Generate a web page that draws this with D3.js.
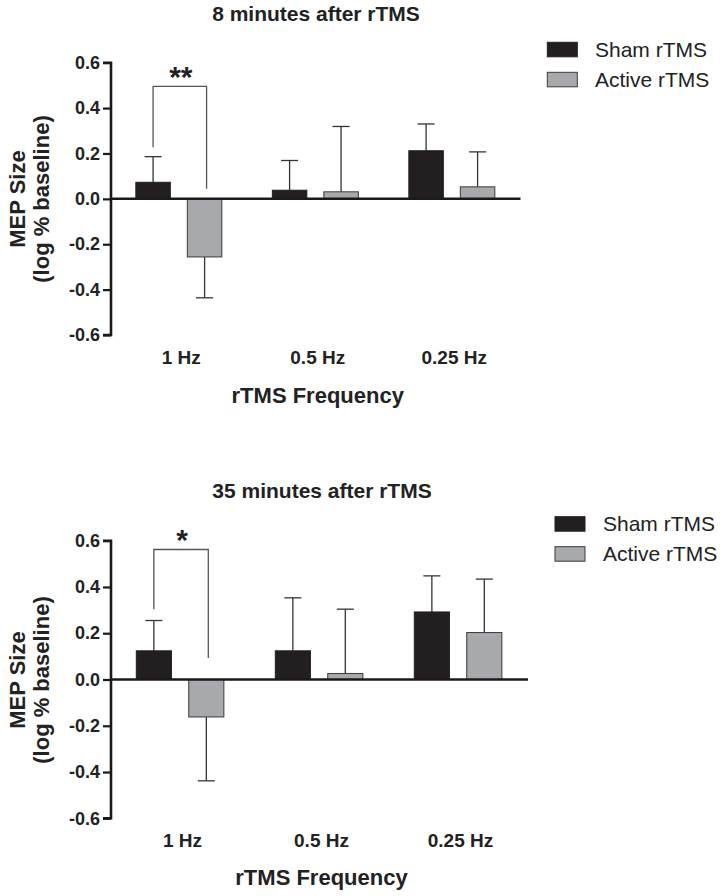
<!DOCTYPE html>
<html>
<head>
<meta charset="utf-8">
<script src="https://cdn.jsdelivr.net/npm/d3@7/dist/d3.min.js"></script>
<style>
  html, body { margin: 0; padding: 0; background: #fff; }
  svg { display: block; font-family: "Liberation Sans", Arial, Helvetica, sans-serif; }
</style>
</head>
<body>
<svg id="chart" width="727" height="896"></svg>
<script>
// ---------------- DATA ----------------
const categories = ["1 Hz", "0.5 Hz", "0.25 Hz"];
const seriesNames = ["Sham rTMS", "Active rTMS"];
const yTicks = [-0.6, -0.4, -0.2, 0.0, 0.2, 0.4, 0.6];

// 8 minutes after rTMS
const sham8 = [0.073, 0.038, 0.212];
const sham8Err = [0.113, 0.131, 0.118];
const active8 = [-0.256, 0.031, 0.053];
const active8Err = [0.180, 0.288, 0.154];
const sig8 = { label: "**", leftEnd: 0.227, rightEnd: 0.044, top: 0.496, category: "1 Hz" };

// 35 minutes after rTMS
const sham35 = [0.124, 0.124, 0.292];
const sham35Err = [0.131, 0.229, 0.156];
const active35 = [-0.162, 0.026, 0.203];
const active35Err = [0.276, 0.278, 0.231];
const sig35 = { label: "*", leftEnd: 0.304, rightEnd: 0.093, top: 0.562, category: "1 Hz" };

const titles = ["8 minutes after rTMS", "35 minutes after rTMS"];
const xTitle = "rTMS Frequency";
const yTitle1 = "MEP Size";
const yTitle2 = "(log %  baseline)";

// ---------------- LAYOUT ----------------
const colors = { "Sham rTMS": "#231f20", "Active rTMS": "#a7a9ac" };
const strokes = { "Sham rTMS": "#231f20", "Active rTMS": "#3a3a3a" };

const panels = [
  { title: titles[0], sham: sham8, shamErr: sham8Err, active: active8, activeErr: active8Err, sig: sig8,
    top: 62.7, bottom: 335, left: 111, right: 520.5, titleY: 20.7, titleX: 316,
    catLabelY: 364, xTitleY: 403.3, yTitleCy: 199,
    legX: 547.3, legY: 42.3, legTextX: 595 },
  { title: titles[1], sham: sham35, shamErr: sham35Err, active: active35, activeErr: active35Err, sig: sig35,
    top: 540.7, bottom: 818.3, left: 111, right: 528, titleY: 498.3, titleX: 322,
    catLabelY: 847, xTitleY: 885, yTitleCy: 680,
    legX: 555, legY: 516.7, legTextX: 603 }
];

const svg = d3.select("#chart");

panels.forEach(p => {
  const g = svg.append("g");
  const y = d3.scaleLinear().domain([-0.6, 0.6]).range([p.bottom, p.top]);
  const x0 = d3.scaleBand().domain(categories).range([p.left, p.right]).padding(0);
  const bw = x0.bandwidth();
  const x1 = d3.scaleBand().domain(seriesNames).range([bw * 0.182, bw * 0.812]).paddingInner(0.33);

  const rows = [];
  categories.forEach((c, i) => {
    rows.push({ cat: c, s: seriesNames[0], v: p.sham[i], e: p.shamErr[i] });
    rows.push({ cat: c, s: seriesNames[1], v: p.active[i], e: p.activeErr[i] });
  });

  // Title
  g.append("text").attr("x", p.titleX).attr("y", p.titleY)
    .attr("text-anchor", "middle").attr("font-weight", "bold").attr("font-size", 21)
    .attr("fill", "#222").text(p.title);

  // Error bars (drawn before bars so the bar covers the start)
  const cap = 8.5;
  rows.forEach(r => {
    const cx = x0(r.cat) + x1(r.s) + x1.bandwidth() / 2;
    const end = r.v >= 0 ? r.v + r.e : r.v - r.e;
    g.append("line").attr("x1", cx).attr("x2", cx).attr("y1", y(r.v)).attr("y2", y(end))
      .attr("stroke", "#333").attr("stroke-width", 1.3);
    g.append("line").attr("x1", cx - cap).attr("x2", cx + cap).attr("y1", y(end)).attr("y2", y(end))
      .attr("stroke", "#333").attr("stroke-width", 1.3);
  });

  // Bars
  g.selectAll("rect.bar").data(rows).enter().append("rect")
    .attr("class", "bar")
    .attr("x", d => x0(d.cat) + x1(d.s))
    .attr("width", x1.bandwidth())
    .attr("y", d => y(Math.max(0, d.v)))
    .attr("height", d => Math.abs(y(d.v) - y(0)))
    .attr("fill", d => colors[d.s])
    .attr("stroke", d => strokes[d.s])
    .attr("stroke-width", 1);

  // Zero line (x axis)
  g.append("line").attr("x1", p.left).attr("x2", p.right).attr("y1", y(0)).attr("y2", y(0))
    .attr("stroke", "#1a1a1a").attr("stroke-width", 2.5);

  // Y axis
  const yAxis = d3.axisLeft(y).tickValues(yTicks).tickFormat(d3.format(".1f")).tickSize(8).tickPadding(3);
  const ya = g.append("g").attr("transform", `translate(${p.left},0)`).call(yAxis);
  ya.select(".domain").attr("stroke", "#1a1a1a").attr("stroke-width", 2.6)
    .attr("d", `M-8,${p.top}H0V${p.bottom}H-8`);
  ya.selectAll(".tick line").attr("stroke", "#1a1a1a").attr("stroke-width", 2.2);
  ya.selectAll(".tick text").attr("font-size", 18).attr("font-weight", "bold")
    .attr("fill", "#222").attr("font-family", "Liberation Sans, Arial, sans-serif")
    .text(d => d3.format(".1f")(d).replace("−", "-"));

  // Category labels
  g.selectAll("text.cat").data(categories).enter().append("text")
    .attr("class", "cat")
    .attr("x", d => x0(d) + bw / 2 + 2)
    .attr("y", p.catLabelY)
    .attr("text-anchor", "middle").attr("font-weight", "bold").attr("font-size", 19)
    .attr("fill", "#222").text(d => d);

  // X title
  g.append("text").attr("x", (p.left + p.right) / 2 + 2).attr("y", p.xTitleY)
    .attr("text-anchor", "middle").attr("font-weight", "bold").attr("font-size", 22)
    .attr("fill", "#222").text(xTitle);

  // Y title
  g.append("text").attr("transform", `translate(25,${p.yTitleCy}) rotate(-90)`)
    .attr("text-anchor", "middle").attr("font-weight", "bold").attr("font-size", 22)
    .attr("fill", "#222").text(yTitle1);
  g.append("text").attr("transform", `translate(49,${p.yTitleCy}) rotate(-90)`)
    .attr("text-anchor", "middle").attr("font-weight", "bold").attr("font-size", 22)
    .attr("fill", "#222").text(yTitle2);

  // Significance bracket
  const s = p.sig;
  const lx = x0(s.category) + x1(seriesNames[0]) + x1.bandwidth() / 2;
  const rx = x0(s.category) + x1(seriesNames[1]) + x1.bandwidth() / 2 + 2;
  g.append("path")
    .attr("d", `M${lx},${y(s.leftEnd)}V${y(s.top)}H${rx}V${y(s.rightEnd)}`)
    .attr("fill", "none").attr("stroke", "#555").attr("stroke-width", 1.3);
  g.append("text").attr("x", (lx + rx) / 2 + 1).attr("y", y(s.top) + 1)
    .attr("text-anchor", "middle").attr("font-weight", "bold").attr("font-size", 30)
    .attr("fill", "#222").text(s.label);

  // Legend
  seriesNames.forEach((name, i) => {
    const ly = p.legY + i * 30;
    g.append("rect").attr("x", p.legX).attr("y", ly).attr("width", 30).attr("height", 14.5)
      .attr("fill", colors[name]).attr("stroke", strokes[name]).attr("stroke-width", 1);
    g.append("text").attr("x", p.legTextX).attr("y", ly + 14.5)
      .attr("font-size", 21).attr("fill", "#222").text(name);
  });
});
</script>
</body>
</html>
